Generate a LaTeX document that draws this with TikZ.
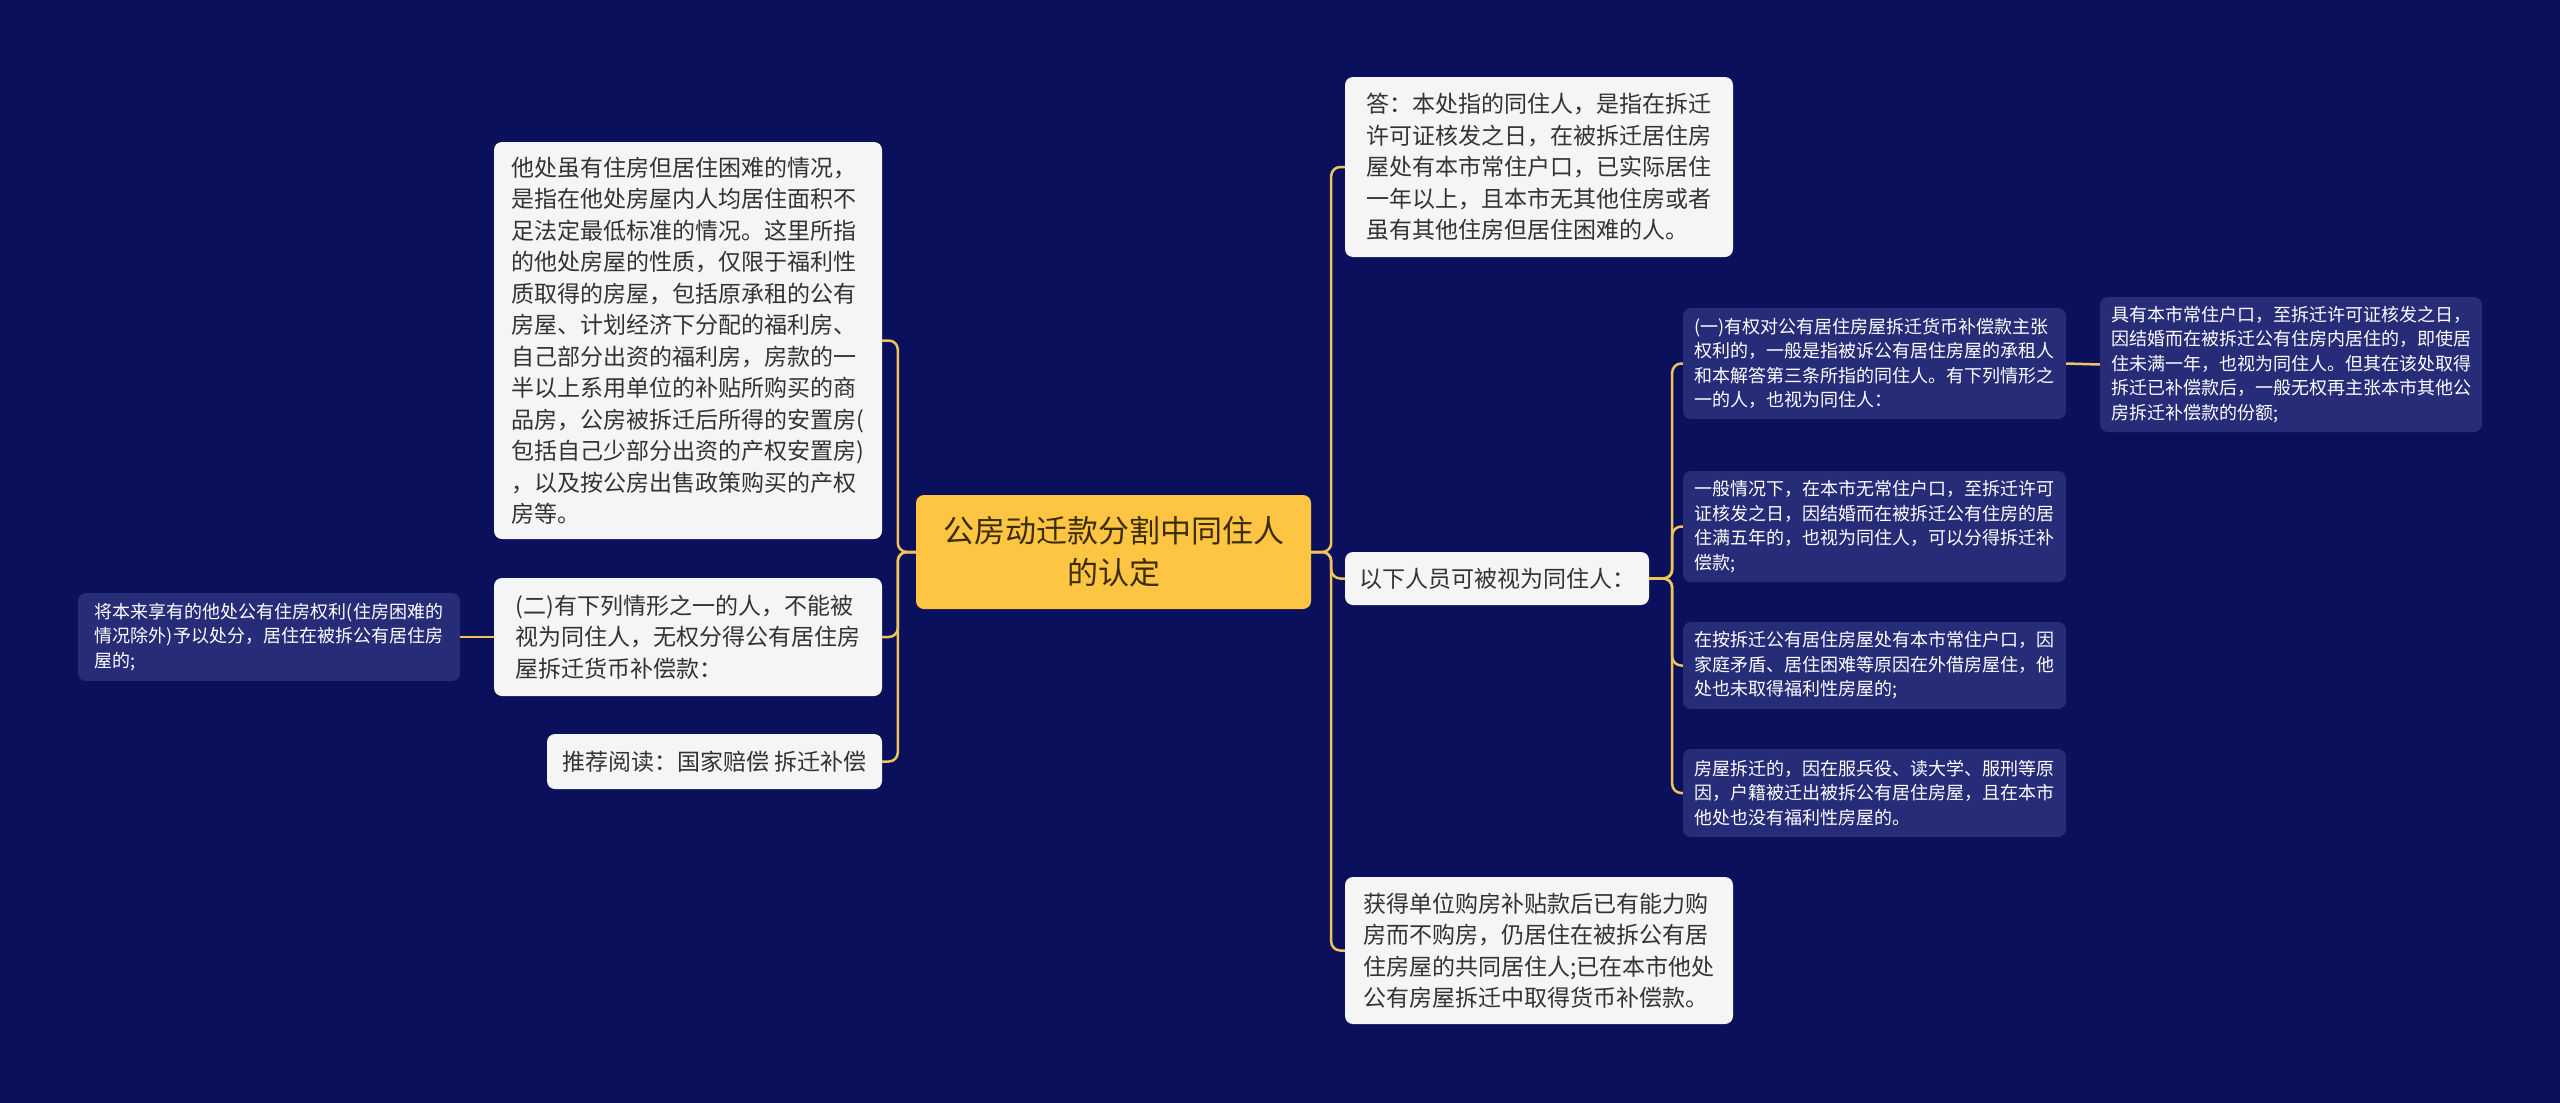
\documentclass[tikz,border=0pt]{standalone}
\usepackage{fontspec}
\setmainfont{Noto Sans CJK SC}
\usepackage{xcolor}
\usepackage{tikz}

\definecolor{pagebg}{RGB}{11,16,92}
\definecolor{boxlight}{RGB}{245,245,245}
\definecolor{boxdark}{RGB}{38,44,120}
\definecolor{rootgold}{RGB}{253,197,66}
\definecolor{linkgold}{RGB}{240,196,90}
\definecolor{textdark}{RGB}{51,51,51}
\definecolor{roottext}{RGB}{60,45,10}

\begin{document}
\begin{tikzpicture}[x=1pt, y=-1pt,
  boxsize/.style 2 args={minimum width=#1pt, minimum height=#2pt},
  lightbox/.style={fill=boxlight, text=textdark, rounded corners=8pt, align=left, inner sep=0pt, font=\fontsize{23}{31.5}\selectfont},
  darkbox/.style={fill=boxdark, text=white, rounded corners=8pt, align=left, inner sep=0pt, font=\fontsize{18}{24.5}\selectfont},
  rootbox/.style={fill=rootgold, text=roottext, rounded corners=8pt, align=center, inner sep=0pt, font=\fontsize{31}{42}\selectfont},
  link/.style={draw=linkgold, line width=2.5pt, rounded corners=9pt}]

% page
\useasboundingbox (0,0) rectangle (2560,1103);
\fill[pagebg] (0,0) rectangle (2560,1103);

% root
\node[rootbox, boxsize={395}{114}] (root) at (1113.5,552) {公房动迁款分割中同住人\\的认定};

% left branch
\node[lightbox, boxsize={388}{397}] (l1) at (688,340.5) {他处虽有住房但居住困难的情况，\\是指在他处房屋内人均居住面积不\\足法定最低标准的情况。这里所指\\的他处房屋的性质，仅限于福利性\\质取得的房屋，包括原承租的公有\\房屋、计划经济下分配的福利房、\\自己部分出资的福利房，房款的一\\半以上系用单位的补贴所购买的商\\品房，公房被拆迁后所得的安置房(\\包括自己少部分出资的产权安置房)\\，以及按公房出售政策购买的产权\\房等。};
\node[lightbox, boxsize={388}{118}] (l2) at (688,637) {(二)有下列情形之一的人，不能被\\视为同住人，无权分得公有居住房\\屋拆迁货币补偿款：};
\node[lightbox, boxsize={335}{55}] (l3) at (714.5,761.5) {推荐阅读：国家赔偿 拆迁补偿};
\node[darkbox, boxsize={382}{88}] (far) at (269,637) {将本来享有的他处公有住房权利(住房困难的\\情况除外)予以处分，居住在被拆公有居住房\\屋的;};

% right branch
\node[lightbox, boxsize={388}{180}] (r1) at (1539,167) {答：本处指的同住人，是指在拆迁\\许可证核发之日，在被拆迁居住房\\屋处有本市常住户口，已实际居住\\一年以上，且本市无其他住房或者\\虽有其他住房但居住困难的人。};
\node[lightbox, boxsize={304}{53}] (r2) at (1497,578.5) {以下人员可被视为同住人：};
\node[lightbox, boxsize={388}{147}] (r3) at (1539,950.5) {获得单位购房补贴款后已有能力购\\房而不购房，仍居住在被拆公有居\\住房屋的共同居住人;已在本市他处\\公有房屋拆迁中取得货币补偿款。};

% sub items of r2
\node[darkbox, boxsize={383}{111}] (s1) at (1874.5,363.5) {(一)有权对公有居住房屋拆迁货币补偿款主张\\权利的，一般是指被诉公有居住房屋的承租人\\和本解答第三条所指的同住人。有下列情形之\\一的人，也视为同住人：};
\node[darkbox, boxsize={382}{135}] (ss) at (2291,364.5) {具有本市常住户口，至拆迁许可证核发之日，\\因结婚而在被拆迁公有住房内居住的，即使居\\住未满一年，也视为同住人。但其在该处取得\\拆迁已补偿款后，一般无权再主张本市其他公\\房拆迁补偿款的份额;};
\node[darkbox, boxsize={383}{111}] (s2) at (1874.5,526.5) {一般情况下，在本市无常住户口，至拆迁许可\\证核发之日，因结婚而在被拆迁公有住房的居\\住满五年的，也视为同住人，可以分得拆迁补\\偿款;};
\node[darkbox, boxsize={383}{87}] (s3) at (1874.5,665.5) {在按拆迁公有居住房屋处有本市常住户口，因\\家庭矛盾、居住困难等原因在外借房屋住，他\\处也未取得福利性房屋的;};
\node[darkbox, boxsize={383}{88}] (s4) at (1874.5,793) {房屋拆迁的，因在服兵役、读大学、服刑等原\\因，户籍被迁出被拆公有居住房屋，且在本市\\他处也没有福利性房屋的。};

% connectors
\foreach \n in {l1,l2,l3}
  \draw[link] (root.west) -- ++(-18,0) |- (\n.east);
\draw[link] (l2.west) -- (far.east);
\foreach \n in {r1,r2,r3}
  \draw[link] (root.east) -- ++(20,0) |- (\n.west);
\foreach \n in {s1,s2,s3,s4}
  \draw[link] (r2.east) -- ++(23,0) |- (\n.west);
\draw[link] (s1.east) -- (ss.west);
\end{tikzpicture}
\end{document}
